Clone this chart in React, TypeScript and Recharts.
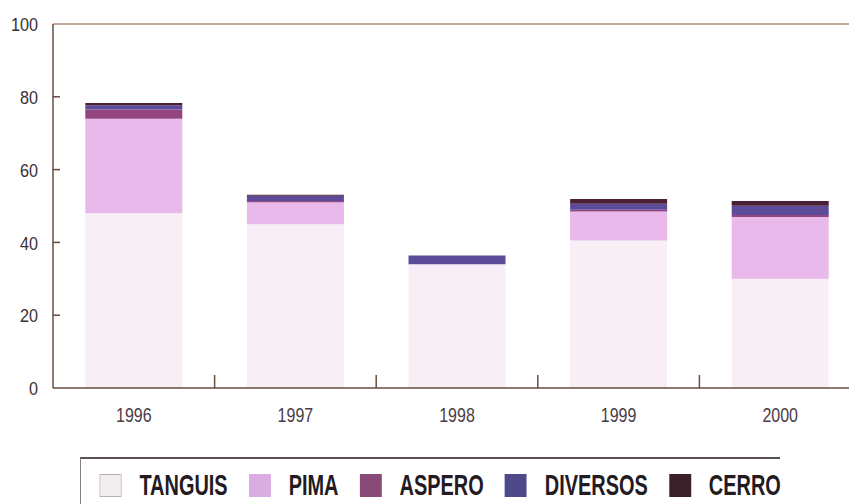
import React from 'react';
import { BarChart, Bar, XAxis, YAxis, Legend, ReferenceLine } from 'recharts';

const categories = ['1996', '1997', '1998', '1999', '2000'];
const tanguis = [48, 45, 34, 40.5, 30];
const pima = [26, 6, 0, 8, 17];
const aspero = [2.5, 0.4, 0, 0.5, 0.5];
const diversos = [1.2, 1.4, 2.4, 1.6, 2.6];
const cerro = [0.6, 0.3, 0, 1.3, 1.3];
const yTicks = [0, 20, 40, 60, 80, 100];

const seriesNames = ['TANGUIS', 'PIMA', 'ASPERO', 'DIVERSOS', 'CERRO'];
const barColors = ['#f8eff6', '#e8b9ea', '#93457f', '#5b4b98', '#4a2035'];
const iconColors = ['#f1edf1', '#d9ace2', '#8a4a78', '#4e4a8a', '#3a2028'];

const data = categories.map((c, i) => ({
  year: c,
  TANGUIS: tanguis[i],
  PIMA: pima[i],
  ASPERO: aspero[i],
  DIVERSOS: diversos[i],
  CERRO: cerro[i],
}));

const AXIS = '#6a4b40';
const FONT = '"Liberation Sans", Arial, sans-serif';

const YTick = (props: any) => {
  const { x, y, payload } = props;
  const v = payload.value;
  return (
    <g>
      {v !== 0 && v !== 100 && (
        <line x1={x + 15} x2={x + 22} y1={y} y2={y} stroke={AXIS} strokeWidth={1.5} />
      )}
      <text
        x={0}
        y={0}
        dy="0.4em"
        transform={`translate(${x},${y}) scale(0.9,1)`}
        textAnchor="end"
        fill="#3a3035"
        fontSize={18}
        fontFamily={FONT}
      >
        {v}
      </text>
    </g>
  );
};

const XTick = (props: any) => {
  const { x, y, payload, index } = props;
  const half = payload && typeof payload.offset === 'number' && payload.offset > 0 ? payload.offset : 80.8;
  return (
    <g>
      {index < categories.length - 1 && (
        <line x1={x + half} x2={x + half} y1={y - 20} y2={y - 33} stroke={AXIS} strokeWidth={1.5} />
      )}
      <text
        x={0}
        y={0}
        dy="0.71em"
        transform={`translate(${x},${y}) scale(0.8,1)`}
        textAnchor="middle"
        fill="#4a3c44"
        fontSize={20}
        fontFamily={FONT}
      >
        {payload.value}
      </text>
    </g>
  );
};

const S = 0.664;

const LegendContent = (props: any) => {
  const raw: any[] = props.payload && props.payload.length ? props.payload : seriesNames.map((n, i) => ({ value: n, color: barColors[i] }));
  const payload = [...raw].sort((a, b) => seriesNames.indexOf(a.value) - seriesNames.indexOf(b.value));
  return (
    <div style={{ width: 700, height: 50, borderTop: '2px solid #5a5050', borderLeft: '1.5px solid #8a8080', boxSizing: 'border-box' }}>
      <div
        style={{
          display: 'flex',
          alignItems: 'center',
          transform: `scaleX(${S})`,
          transformOrigin: 'left top',
          paddingTop: 11,
          paddingLeft: 28,
          whiteSpace: 'nowrap',
        }}
      >
        {payload.map((p: any, i: number) => {
          const idx = seriesNames.indexOf(p.value);
          return (
            <div key={p.value} style={{ display: 'flex', alignItems: 'center', marginRight: 32 }}>
              <div
                style={{
                  width: 33,
                  height: 23,
                  background: iconColors[idx >= 0 ? idx : i],
                  border: idx === 0 ? '1.5px solid #b8b0b8' : 'none',
                  boxSizing: 'border-box',
                  marginRight: 27,
                }}
              />
              <span
                style={{
                  fontFamily: FONT,
                  fontWeight: 700,
                  fontSize: 30,
                  lineHeight: '30px',
                  color: '#231a22',
                }}
              >
                {p.value}
              </span>
            </div>
          );
        })}
      </div>
    </div>
  );
};

export default function App() {
  return (
    <div style={{ position: 'absolute', left: 0, top: 0, width: 849, height: 504, overflow: 'hidden', background: '#fff' }}>
      <BarChart
        width={870}
        height={504}
        data={data}
        margin={{ top: 24, right: 9, left: 0, bottom: 86 }}
        barCategoryGap="20%"
      >
        <XAxis
          dataKey="year"
          axisLine={{ stroke: AXIS, strokeWidth: 1.5 }}
          tickLine={false}
          tickSize={0}
          tickMargin={20}
          height={30}
          tick={<XTick />}
          interval={0}
        />
        <YAxis
          domain={[0, 100]}
          ticks={yTicks}
          width={53}
          axisLine={{ stroke: AXIS, strokeWidth: 1.5 }}
          tickLine={false}
          tickSize={0}
          tickMargin={15}
          tick={<YTick />}
          interval={0}
        />
        <ReferenceLine y={100} stroke="#b08a78" strokeWidth={1.5} />
        {seriesNames.map((n, i) => (
          <Bar key={n} dataKey={n} name={n} stackId="a" fill={barColors[i]} isAnimationActive={false} />
        ))}
        <Legend
          layout="horizontal"
          verticalAlign="middle"
          align="center"
          content={<LegendContent />}
          wrapperStyle={{ position: 'absolute', left: 80, top: 457, width: 720, height: 50, bottom: 'auto', right: 'auto' }}
        />
      </BarChart>
    </div>
  );
}
